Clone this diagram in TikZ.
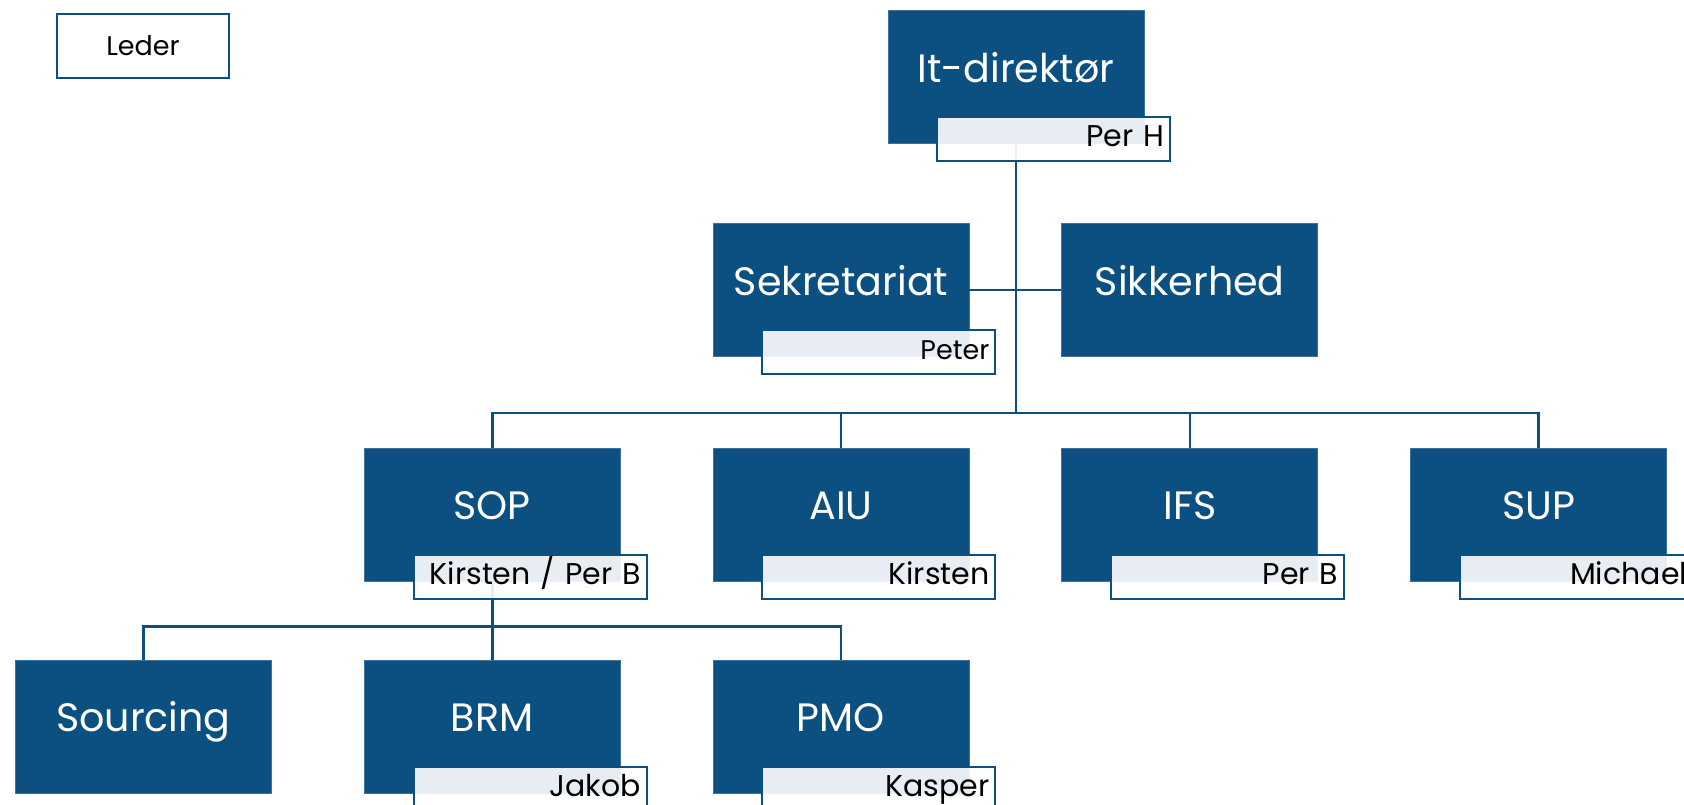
\documentclass[tikz,border=0pt]{standalone}
\usepackage{fontspec}
\setmainfont{Poppins}
\usepackage{xcolor}
\usepackage{tikz}
\usetikzlibrary{positioning}

\definecolor{unitblue}{RGB}{12,80,130}

\begin{document}
\begin{tikzpicture}[
    x=0.5pt, y=-0.5pt,
    unit/.style={
        rectangle,
        fill=unitblue,
        draw=unitblue!80!white,
        line width=0.4pt,
        minimum width=128pt,
        minimum height=66.5pt,
        inner sep=0pt,
        text=white,
        text height=15pt,
        text depth=10pt,
        font=\fontsize{19.8}{24}\selectfont
    },
    person/.style={
        rectangle,
        draw=unitblue,
        line width=1pt,
        fill=white,
        fill opacity=0.9,
        text opacity=1,
        minimum width=116.5pt,
        minimum height=22pt,
        inner xsep=3pt,
        inner ysep=0pt,
        text width=110.5pt,
        text height=10.5pt,
        text depth=3pt,
        align=right,
        anchor=north east,
        font=\fontsize{15}{18}\selectfont
    },
    legend/.style={
        rectangle,
        draw=unitblue,
        line width=1.2pt,
        fill=white,
        minimum width=86pt,
        minimum height=32pt,
        font=\fontsize{13.5}{16}\selectfont
    },
    link/.style={
        draw=unitblue,
        line width=1.3pt
    }
]

\clip (0,0) rectangle (1684,804);

\node[legend] (leder) at (143,46) {Leder};

% units
\node[unit] (itdir) at (1016,77) {It-direktør};

\node[unit] (sekr) at (841,290) {Sekretariat};
\node[unit, right=46pt of sekr] (sikk) {Sikkerhed};

\node[unit, below=45.5pt of sekr] (aiu) {AIU};
\node[unit, left=46pt of aiu] (sop) {SOP};
\node[unit, right=46pt of aiu] (ifs) {IFS};
\node[unit, right=46pt of ifs] (sup) {SUP};

\node[unit, below=39pt of sop] (brm) {BRM};
\node[unit, left=46pt of brm] (src) {Sourcing};
\node[unit, right=46pt of brm] (pmo) {PMO};

% connectors
\coordinate (topbus) at ([yshift=17.5pt]aiu.north);
\coordinate (sopbus) at ([yshift=16.5pt]brm.north);

\draw[link] (itdir.south) -- (itdir.south |- topbus);
\draw[link] (sekr.east) -- (sikk.west);
\foreach \unitname in {sop,aiu,ifs,sup}
    \draw[link] (itdir.south |- topbus) -| (\unitname.north);

\draw[link] (sop.south) -- (sop.south |- sopbus);
\foreach \unitname in {src,brm,pmo}
    \draw[link] (sop.south |- sopbus) -| (\unitname.north);

% names
\node[person] (itdirname) at ([shift={(13.5pt,14pt)}]itdir.south east) {Per H};
\node[person, font=\fontsize{13.5}{16}\selectfont] (sekrname) at ([shift={(13.5pt,14pt)}]sekr.south east) {Peter};
\node[person] (sopname) at ([shift={(13.5pt,14pt)}]sop.south east) {Kirsten / Per B};
\node[person] (aiuname) at ([shift={(13.5pt,14pt)}]aiu.south east) {Kirsten};
\node[person] (ifsname) at ([shift={(13.5pt,14pt)}]ifs.south east) {Per B};
\node[person] (supname) at ([shift={(13.5pt,14pt)}]sup.south east) {Michael};
\node[person] (brmname) at ([shift={(13.5pt,14pt)}]brm.south east) {Jakob};
\node[person] (pmoname) at ([shift={(13.5pt,14pt)}]pmo.south east) {Kasper};

\end{tikzpicture}
\end{document}
